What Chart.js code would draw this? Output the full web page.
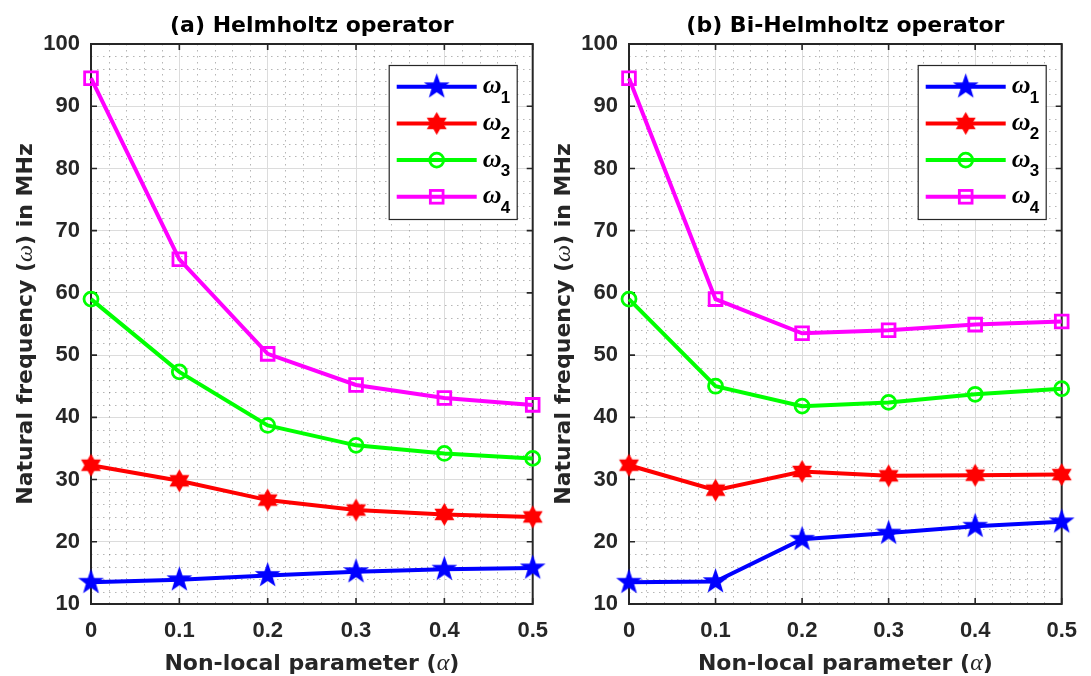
<!DOCTYPE html>
<html>
<head>
<meta charset="utf-8">
<script src="https://cdn.jsdelivr.net/npm/chart.js@4.4.0/dist/chart.umd.min.js"></script>
<style>
  html, body { margin: 0; padding: 0; background: #fff; }
  #wrap { position: relative; width: 1091px; height: 676px; overflow: hidden; }
  canvas { position: absolute; top: 0; }
</style>
</head>
<body>
<div id="wrap">
  <canvas id="chartA" width="562" height="676" style="left:0"></canvas>
  <canvas id="chartB" width="553" height="676" style="left:538px"></canvas>
</div>
<script>
// non-local parameter values (x axis)
const ALPHA = [0, 0.1, 0.2, 0.3, 0.4, 0.5];
const X_TICK_LABELS = ['0', '0.1', '0.2', '0.3', '0.4', '0.5'];
const Y_TICKS = [10, 20, 30, 40, 50, 60, 70, 80, 90, 100];
const SERIES_NAMES = ['1', '2', '3', '4']; // subscripts of omega

// (a) Helmholtz operator
const helm_w1 = [13.5, 13.9, 14.6, 15.2, 15.6, 15.8];
const helm_w2 = [32.3, 29.8, 26.7, 25.1, 24.4, 24.0];
const helm_w3 = [59.0, 47.3, 38.7, 35.5, 34.2, 33.4];
const helm_w4 = [94.5, 65.4, 50.2, 45.2, 43.1, 42.0];

// (b) Bi-Helmholtz operator
const bi_w1 = [13.5, 13.6, 20.4, 21.4, 22.5, 23.2];
const bi_w2 = [32.3, 28.3, 31.3, 30.6, 30.7, 30.8];
const bi_w3 = [59.0, 45.0, 41.8, 42.4, 43.7, 44.6];
const bi_w4 = [94.5, 59.0, 53.5, 54.0, 54.9, 55.4];

const COLORS = ['#0000ff', '#ff0000', '#00ff00', '#ff00ff'];
const TICK_FONT = { family: '"Liberation Sans", Arial, sans-serif', size: 22, weight: 'bold' };
const LABEL_FONT = 'bold 22px "DejaVu Sans", sans-serif';
const GREEK_FONT = 'italic 24px "Liberation Serif", serif';

// filled star markers (MATLAB pentagram / hexagram)
function starCanvas(n, R, r, color) {
  const s = Math.ceil(2 * R + 2);
  const c = document.createElement('canvas');
  c.width = c.height = s;
  const g = c.getContext('2d');
  g.fillStyle = color;
  g.beginPath();
  for (let i = 0; i < 2 * n; i++) {
    const rad = i % 2 ? r : R;
    const ang = -Math.PI / 2 + i * Math.PI / n;
    g.lineTo(s / 2 + rad * Math.cos(ang), s / 2 + rad * Math.sin(ang));
  }
  g.closePath();
  g.fill();
  return c;
}
const pentagram = starCanvas(5, 13.5, 5.4, COLORS[0]);
const hexagram = starCanvas(6, 11.5, 6.6, COLORS[1]);
const MARKERS = [
  { style: pentagram, radius: 10, bw: 0 },
  { style: hexagram, radius: 10, bw: 0 },
  { style: 'circle', radius: 7, bw: 2.8 },
  { style: 'rect', radius: 9, bw: 2.8 }
];

function makeDatasets(series) {
  return series.map((vals, i) => ({
    label: 'ω' + SERIES_NAMES[i],
    data: ALPHA.map((a, k) => ({ x: a, y: vals[k] })),
    borderColor: COLORS[i],
    backgroundColor: COLORS[i],
    borderWidth: 4,
    pointStyle: MARKERS[i].style,
    pointRadius: MARKERS[i].radius,
    pointBorderWidth: MARKERS[i].bw,
    pointBorderColor: COLORS[i],
    pointBackgroundColor: 'rgba(0,0,0,0)',
    tension: 0,
    clip: false,
    order: 3 - i
  }));
}

// draws text made of parts with different fonts, centred on cx
function drawParts(ctx, parts, cx, baseY) {
  let total = 0;
  parts.forEach(p => { ctx.font = p.f; p.w = ctx.measureText(p.t).width; total += p.w; });
  let x = cx - total / 2;
  ctx.textAlign = 'left';
  ctx.textBaseline = 'alphabetic';
  parts.forEach(p => { ctx.font = p.f; ctx.fillText(p.t, x, baseY + (p.dy || 0)); x += p.w; });
}

const decor = {
  id: 'decor',
  beforeDatasetsDraw(chart) {
    const { ctx, chartArea: a, scales: { x, y } } = chart;
    ctx.save();
    // minor grid
    ctx.strokeStyle = 'rgba(110,110,110,0.5)';
    ctx.lineWidth = 1;
    ctx.setLineDash([1.5, 4.5]);
    for (let i = 1; i < 25; i++) {
      if (i % 5 === 0) continue;
      const px = Math.round(x.getPixelForValue(i * 0.02)) + 0.5;
      ctx.beginPath(); ctx.moveTo(px, a.top); ctx.lineTo(px, a.bottom); ctx.stroke();
    }
    for (let v = 12; v < 100; v += 2) {
      if (v % 10 === 0) continue;
      const py = Math.round(y.getPixelForValue(v)) + 0.5;
      ctx.beginPath(); ctx.moveTo(a.left, py); ctx.lineTo(a.right, py); ctx.stroke();
    }
    ctx.setLineDash([]);
    // box
    ctx.strokeStyle = '#262626';
    ctx.lineWidth = 2;
    ctx.strokeRect(a.left, a.top, a.right - a.left, a.bottom - a.top);
    // inward ticks on all sides
    ctx.lineWidth = 1.6;
    const t = 6;
    x.ticks.forEach(tk => {
      const px = x.getPixelForValue(tk.value);
      ctx.beginPath();
      ctx.moveTo(px, a.bottom); ctx.lineTo(px, a.bottom - t);
      ctx.moveTo(px, a.top); ctx.lineTo(px, a.top + t);
      ctx.stroke();
    });
    y.ticks.forEach(tk => {
      const py = y.getPixelForValue(tk.value);
      ctx.beginPath();
      ctx.moveTo(a.left, py); ctx.lineTo(a.left + t, py);
      ctx.moveTo(a.right, py); ctx.lineTo(a.right - t, py);
      ctx.stroke();
    });
    ctx.restore();
  },
  afterDraw(chart, args, opts) {
    const { ctx, chartArea: a } = chart;
    const cx = (a.left + a.right) / 2;
    ctx.save();
    ctx.fillStyle = '#000';
    drawParts(ctx, [{ t: opts.title, f: LABEL_FONT }], cx, 32);
    ctx.fillStyle = '#262626';
    drawParts(ctx, [
      { t: 'Non-local parameter (', f: LABEL_FONT },
      { t: 'α', f: GREEK_FONT },
      { t: ')', f: LABEL_FONT }
    ], cx, 670);
    ctx.save();
    ctx.translate(a.left - 59, (a.top + a.bottom) / 2);
    ctx.rotate(-Math.PI / 2);
    drawParts(ctx, [
      { t: 'Natural frequency (', f: LABEL_FONT },
      { t: 'ω', f: GREEK_FONT },
      { t: ') in MHz', f: LABEL_FONT }
    ], 0, 0);
    ctx.restore();

    // legend
    const bx = a.right - 16 - 128, by = a.top + 21, bw = 128, bh = 154;
    ctx.fillStyle = '#fff';
    ctx.fillRect(bx, by, bw, bh);
    ctx.strokeStyle = '#262626';
    ctx.lineWidth = 1.2;
    ctx.strokeRect(bx + 0.5, by + 0.5, bw, bh);
    chart.data.datasets.forEach((ds, i) => {
      const ry = by + 21.7 + i * 36.7;
      ctx.strokeStyle = ds.borderColor;
      ctx.lineWidth = 4;
      ctx.beginPath(); ctx.moveTo(bx + 8, ry); ctx.lineTo(bx + 88, ry); ctx.stroke();
      const mx = bx + 48;
      const st = ds.pointStyle;
      ctx.lineWidth = ds.pointBorderWidth;
      if (typeof st === 'object') {
        ctx.drawImage(st, mx - st.width / 2, ry - st.height / 2);
      } else if (st === 'circle') {
        ctx.beginPath(); ctx.arc(mx, ry, ds.pointRadius, 0, Math.PI * 2); ctx.stroke();
      } else {
        const h = ds.pointRadius * Math.SQRT1_2;
        ctx.strokeRect(mx - h, ry - h, 2 * h, 2 * h);
      }
      ctx.fillStyle = '#000';
      ctx.textAlign = 'left';
      ctx.textBaseline = 'alphabetic';
      ctx.font = 'italic bold 26px "Liberation Serif", serif';
      ctx.fillText('ω', bx + 94, ry + 6.5);
      ctx.font = 'bold 17px "Liberation Sans", Arial, sans-serif';
      ctx.fillText(SERIES_NAMES[i], bx + 112, ry + 16);
    });
    ctx.restore();
  }
};

function makeChart(id, title, series, padRight) {
  return new Chart(document.getElementById(id), {
    type: 'line',
    data: { datasets: makeDatasets(series) },
    plugins: [decor],
    options: {
      responsive: false,
      animation: false,
      events: [],
      layout: { padding: { top: 44, right: padRight, bottom: 0, left: 0 } },
      plugins: {
        legend: { display: false },
        tooltip: { enabled: false },
        decor: { title: title }
      },
      scales: {
        x: {
          type: 'linear',
          min: 0, max: 0.5,
          afterBuildTicks: s => { s.ticks = ALPHA.map(v => ({ value: v })); },
          afterFit: s => { s.height = 72; },
          ticks: {
            font: TICK_FONT, color: '#262626', padding: 14, maxRotation: 0,
            callback: (v, i) => X_TICK_LABELS[i]
          },
          grid: { color: '#dcdcdc', lineWidth: 1, drawTicks: false },
          border: { display: false }
        },
        y: {
          min: 10, max: 100,
          afterBuildTicks: s => { s.ticks = Y_TICKS.map(v => ({ value: v })); },
          afterFit: s => { s.width = 91; },
          ticks: { font: TICK_FONT, color: '#262626', padding: 11 },
          grid: { color: '#dcdcdc', lineWidth: 1, drawTicks: false },
          border: { display: false }
        }
      }
    }
  });
}

makeChart('chartA', '(a) Helmholtz operator', [helm_w1, helm_w2, helm_w3, helm_w4], 562 - 536);
makeChart('chartB', '(b) Bi-Helmholtz operator', [bi_w1, bi_w2, bi_w3, bi_w4], 553 - 535);
</script>
</body>
</html>
